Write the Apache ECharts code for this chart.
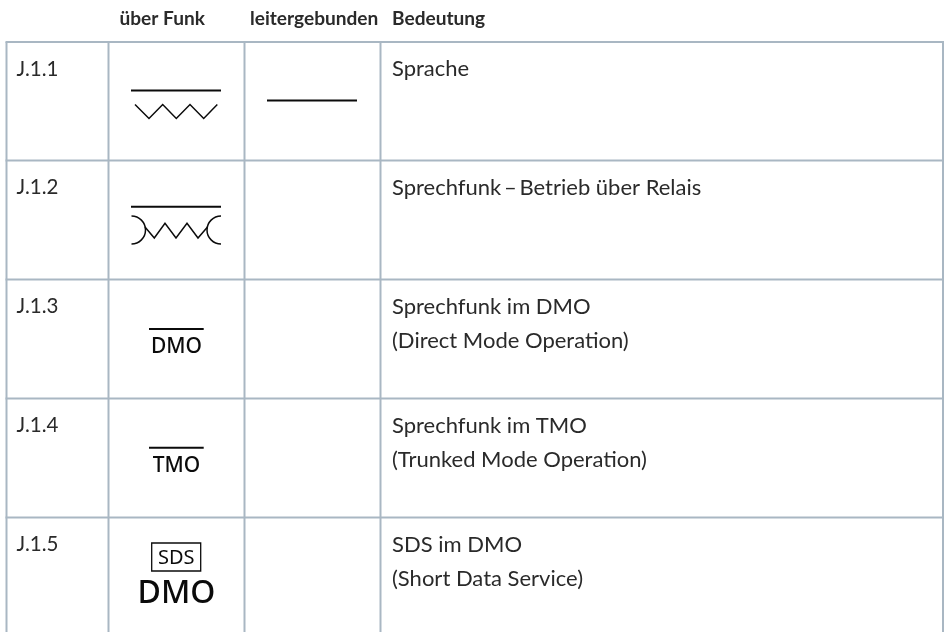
<!DOCTYPE html>
<html><head><meta charset="utf-8">
<style>html,body{margin:0;padding:0;background:#fff}#c{width:945px;height:632px}</style>
<script src="https://cdn.jsdelivr.net/npm/echarts@6/dist/echarts.min.js"></script>
</head><body><div id="c"></div>
<script>
// ---- table content ----
const headers = ['über Funk', 'leitergebunden', 'Bedeutung'];
const rowIds = ['J.1.1', 'J.1.2', 'J.1.3', 'J.1.4', 'J.1.5'];
const meanings = [
  'Sprache',
  'Sprechfunk\u2009–\u2009Betrieb über Relais',
  'Sprechfunk im DMO\n(Direct Mode Operation)',
  'Sprechfunk im TMO\n(Trunked Mode Operation)',
  'SDS im DMO\n(Short Data Service)'
];
const symbolWords = ['DMO', 'TMO', 'SDS', 'DMO'];

// ---- layout (axis units equal one pixel) ----
const columnEdges = [6.5, 108.5, 244.5, 380.5, 943];
const rowEdges = [42, 160.5, 279.5, 398.5, 517.5];
const headerX = [119.5, 250, 392];
const FONT = 'Lato, "Noto Sans", sans-serif';
const SYM_FONT = '"Noto Sans", "Open Sans", sans-serif';
const INK = '#2a2a2a', RULE = '#a9b7c3', BLACK = '#0b0b0b';
const LEADING = 34;

function line(api, x1, y1, x2, y2, w, col) {
  const a = api.coord([x1, y1]), b = api.coord([x2, y2]);
  return {type: 'line', shape: {x1: a[0], y1: a[1], x2: b[0], y2: b[1]},
    style: {stroke: col, lineWidth: w, fill: null}};
}
function zig(api, pts) {
  return {type: 'polyline', shape: {points: pts.map(p => api.coord(p))},
    style: {stroke: BLACK, lineWidth: 1.5, fill: null, lineJoin: 'miter'}};
}
function arc(api, x, y, r, s, e) {
  const c = api.coord([x, y]);
  return {type: 'arc', shape: {cx: c[0], cy: c[1], r: r, startAngle: s, endAngle: e, clockwise: true},
    style: {stroke: BLACK, lineWidth: 1.5, fill: null}};
}
function label(api, str, x, y, size, font, col, weight, align) {
  const c = api.coord([x, y]);
  return {type: 'text', style: {text: str, x: c[0], y: c[1], font: (weight || 'normal') + ' ' + size + 'px ' + font,
    fill: col, align: align || 'left', verticalAlign: 'middle', lineHeight: LEADING}};
}

const renderGrid = (p, api) => {
  const kids = [];
  rowEdges.forEach(y => kids.push(line(api, columnEdges[0] - 1, y, columnEdges[4] + 1, y, 2, RULE)));
  columnEdges.forEach(x => kids.push(line(api, x, rowEdges[0], x, 632, 2, RULE)));
  return {type: 'group', children: kids};
};
const renderSymbols = (p, api) => ({type: 'group', children: [
  line(api, 131, 90.5, 221, 90.5, 2, BLACK),
  zig(api, [[135, 104.5], [149, 118.5], [162.7, 104.5], [176.3, 118.5], [190, 104.5], [203.7, 118.5], [217.3, 104.5]]),
  line(api, 267, 100.5, 357, 100.5, 2, BLACK),
  line(api, 131, 206.7, 221, 206.7, 2, BLACK),
  arc(api, 131.5, 230, 14, -Math.PI / 2, Math.PI / 2),
  arc(api, 221, 230, 14, Math.PI / 2, Math.PI * 1.5),
  zig(api, [[145, 227], [154.3, 238], [165, 223.3], [176, 238], [187, 223.3], [198, 238], [207.5, 227]]),
  line(api, 149, 329, 203.7, 329, 2, BLACK),
  label(api, symbolWords[0], 176.5, 347, 21, SYM_FONT, BLACK, '500', 'center'),
  line(api, 149, 447.7, 203.7, 447.7, 2, BLACK),
  label(api, symbolWords[1], 176.5, 466, 21, SYM_FONT, BLACK, '500', 'center'),
  {type: 'rect', shape: (() => { const a = api.coord([151.7, 543]), b = api.coord([200.7, 571]);
      return {x: a[0], y: a[1], width: b[0] - a[0], height: b[1] - a[1]}; })(),
    style: {stroke: BLACK, lineWidth: 1.3, fill: null}},
  label(api, symbolWords[2], 176.2, 558, 20, SYM_FONT, BLACK, 'normal', 'center'),
  label(api, symbolWords[3], 176.5, 594, 32, SYM_FONT, BLACK, '500', 'center')
]});
const renderHeader = (p, api) => label(api, headers[p.dataIndex], headerX[p.dataIndex], 18.5, 19.1, FONT, INK, 'bold');
const renderId = (p, api) => label(api, rowIds[p.dataIndex], 16.5, rowEdges[p.dataIndex] + 27, 20.5, FONT, INK);
const renderMeaning = (p, api) => {
  const m = meanings[p.dataIndex], lines = m.split('\n').length;
  return label(api, m, 392, rowEdges[p.dataIndex] + 27 + (lines - 1) * LEADING / 2, 22, FONT, INK);
};

const chart = echarts.init(document.getElementById('c'));
chart.setOption({
  animation: false,
  backgroundColor: '#fff',
  grid: {left: 0, right: 0, top: 0, bottom: 0},
  xAxis: {type: 'value', min: 0, max: 945, show: false},
  yAxis: {type: 'value', min: 0, max: 632, inverse: true, show: false},
  series: [
    {type: 'custom', name: 'Raster', data: [0], renderItem: renderGrid, clip: false, silent: true},
    {type: 'custom', name: 'Symbole', data: [0], renderItem: renderSymbols, clip: false, silent: true},
    {type: 'custom', name: 'Kopf', data: headers.map((_, i) => i), renderItem: renderHeader, clip: false, silent: true},
    {type: 'custom', name: 'Nummer', data: rowIds.map((_, i) => i), renderItem: renderId, clip: false, silent: true},
    {type: 'custom', name: 'Bedeutung', data: meanings.map((_, i) => i), renderItem: renderMeaning, clip: false, silent: true}
  ]
});
</script></body></html>
